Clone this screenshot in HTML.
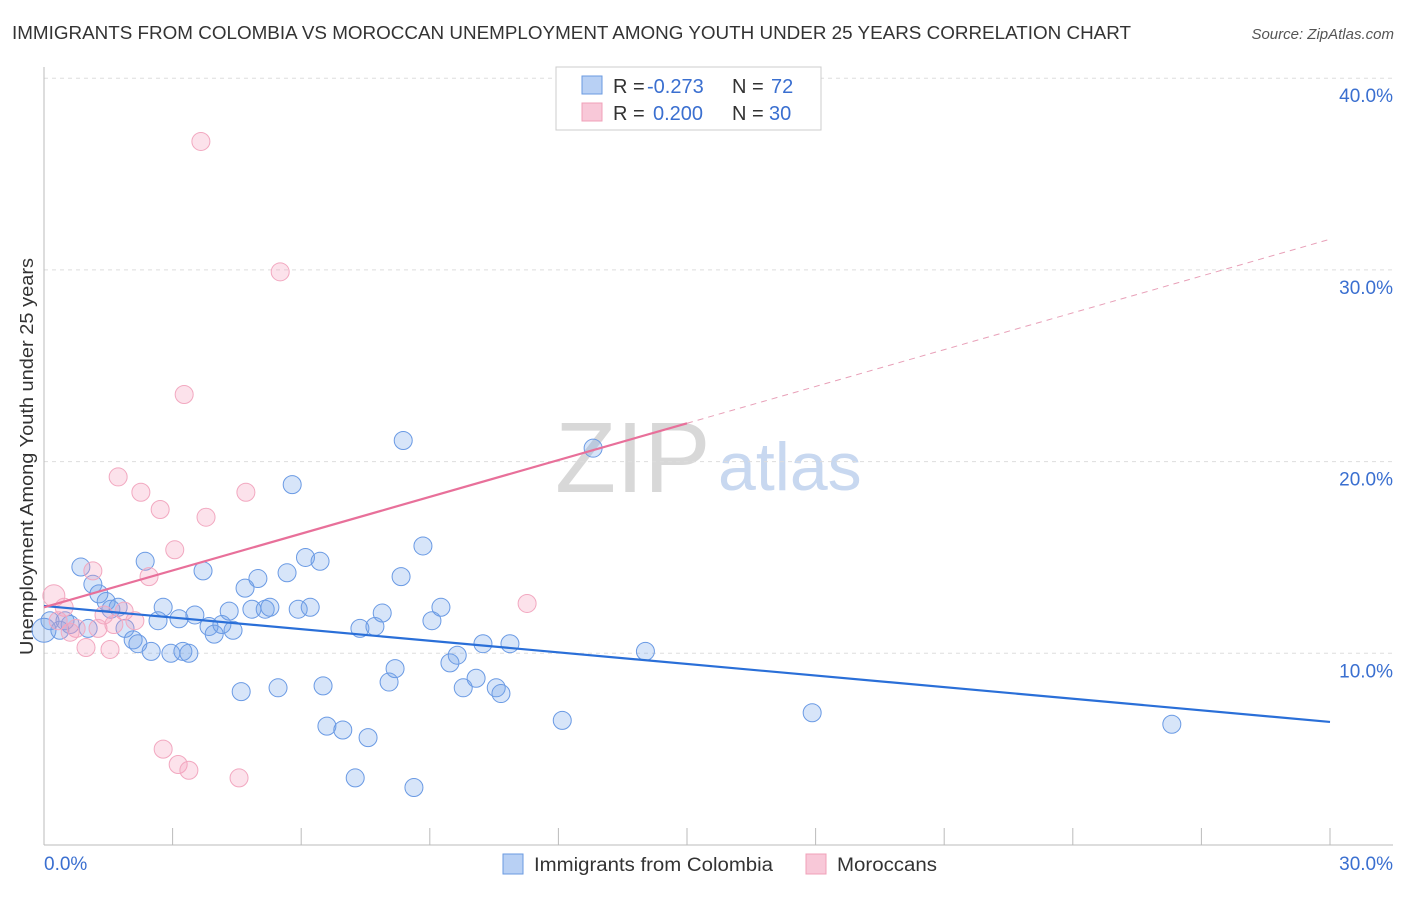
<!DOCTYPE html>
<html><head><meta charset="utf-8"><style>
body{margin:0;background:#fff;font-family:"Liberation Sans",sans-serif;}
svg text{font-family:"Liberation Sans",sans-serif;}
</style></head><body>
<svg width="1406" height="892" id="chart">
<text x="12" y="39" font-size="18" fill="#333" textLength="1119" lengthAdjust="spacingAndGlyphs">IMMIGRANTS FROM COLOMBIA VS MOROCCAN UNEMPLOYMENT AMONG YOUTH UNDER 25 YEARS CORRELATION CHART</text>
<text x="1394" y="39" font-size="15" fill="#555" font-style="italic" text-anchor="end">Source: ZipAtlas.com</text>
<text transform="translate(33,655) rotate(-90)" font-size="18" fill="#333" textLength="397" lengthAdjust="spacingAndGlyphs">Unemployment Among Youth under 25 years</text>
<text x="555" y="492" font-size="100" fill="#d8d8d8" font-family="Liberation Serif">ZIP</text>
<text x="718" y="490" font-size="68" fill="#c8d8f0">atlas</text>
<g id="grid"></g><g id="pts"></g><g id="lines"></g>
<g>
<rect x="556" y="67" width="265" height="63" fill="#fff" stroke="#ccc"/>
<rect x="582" y="76" width="20" height="18" fill="#b8d0f4" stroke="#6a9ae0"/>
<rect x="582" y="103" width="20" height="18" fill="#f8c8d8" stroke="#f0a0b8"/>
<text x="613" y="93" font-size="20" fill="#333">R =</text><text x="647" y="93" font-size="20" fill="#3a6fd0">-0.273</text>
<text x="732" y="93" font-size="20" fill="#333">N =</text><text x="771" y="93" font-size="20" fill="#3a6fd0">72</text>
<text x="613" y="120" font-size="20" fill="#333">R =</text><text x="653" y="120" font-size="20" fill="#3a6fd0">0.200</text>
<text x="732" y="120" font-size="20" fill="#333">N =</text><text x="769" y="120" font-size="20" fill="#3a6fd0">30</text>
</g>
<g>
<rect x="503" y="854" width="20" height="20" fill="#b8d0f4" stroke="#6a9ae0"/>
<text x="534" y="871" font-size="19" fill="#333" textLength="239" lengthAdjust="spacingAndGlyphs">Immigrants from Colombia</text>
<rect x="806" y="854" width="20" height="20" fill="#f8c8d8" stroke="#f0a0b8"/>
<text x="837" y="871" font-size="19" fill="#333" textLength="100" lengthAdjust="spacingAndGlyphs">Moroccans</text>
</g>
</svg>
<script>
const xTicks=[0,3,6,9,12,15,18,21,24,27,30];
const yTicks=[10,20,30,40];
const blueX=[0.86,2.36,1.14,1.28,1.45,1.56,1.73,1.89,2.08,2.19,2.5,2.66,2.78,2.96,3.15,3.24,3.38,3.52,3.71,3.85,3.97,4.15,4.32,4.41,4.6,4.69,4.85,4.99,5.16,5.27,5.46,5.67,5.79,5.93,6.1,6.21,6.44,6.51,6.6,6.97,7.26,7.37,7.56,7.72,7.89,8.05,8.19,8.33,8.38,8.63,8.84,9.05,9.26,9.47,9.64,9.78,10.08,10.24,10.55,10.66,10.87,12.09,12.81,14.03,17.92,26.31,0.14,0.37,0.61,1.03,0.49,0.0];
const blueY=[14.5,14.8,13.6,13.1,12.7,12.3,12.4,11.3,10.7,10.5,10.1,11.7,12.4,10.0,11.8,10.1,10.0,12.0,14.3,11.4,11.0,11.5,12.2,11.2,8.0,13.4,12.3,13.9,12.3,12.4,8.2,14.2,18.8,12.3,15.0,12.4,14.8,8.3,6.2,6.0,3.5,11.3,5.6,11.4,12.1,8.5,9.2,14.0,21.1,3.0,15.6,11.7,12.4,9.5,9.9,8.2,8.7,10.5,8.2,7.9,10.5,6.5,20.7,10.1,6.9,6.3,11.7,11.2,11.5,11.3,11.7,11.2];
const pinkX=[3.66,5.51,3.27,1.73,2.26,4.71,2.71,3.78,3.05,1.14,2.45,0.23,0.47,1.87,1.4,2.12,1.63,1.26,0.75,0.61,0.98,1.54,11.27,2.78,3.13,3.38,4.55,0.33];
const pinkY=[36.7,29.9,23.5,19.2,18.4,18.4,17.5,17.1,15.4,14.3,14.0,13.0,12.4,12.2,12.0,11.7,11.5,11.3,11.3,11.1,10.3,10.2,12.6,5.0,4.2,3.9,3.5,11.7];
const blueFit=[12.47,6.42];
const pinkFit=[12.4,31.6];
const pinkSolidEnd=15;
const NS="http://www.w3.org/2000/svg";
const X=v=>44+v/30*1286, Y=v=>845-v*19.17;
function mk(t,a,p){const e=document.createElementNS(NS,t);for(const k in a)e.setAttribute(k,a[k]);p.appendChild(e);return e;}
const g=document.getElementById('grid');
for(const t of yTicks){const l=mk('line',{x1:44,x2:1393,y1:Y(t),y2:Y(t),stroke:'#ddd','stroke-dasharray':'4,4'},g);


const tx=mk('text',{x:1393,y:Y(t)+24,'font-size':19,fill:'#3a6fd0','text-anchor':'end'},g);tx.textContent=t.toFixed(1)+'%';

}
mk('line',{x1:44,x2:44,y1:67,y2:845,stroke:'#bbb'},g);
mk('line',{x1:44,x2:1393,y1:845,y2:845,stroke:'#bbb'},g);
for(const t of xTicks){if(t>0){const l=mk('line',{x1:X(t),x2:X(t),y1:828,y2:845,stroke:'#bbb'},g);

}}
const x0=mk('text',{x:44,y:870,'font-size':19,fill:'#3a6fd0'},g);x0.textContent=xTicks[0].toFixed(1)+'%';


const x1=mk('text',{x:1393,y:870,'font-size':19,fill:'#3a6fd0','text-anchor':'end'},g);x1.textContent=xTicks[xTicks.length-1].toFixed(1)+'%';


const p=document.getElementById('pts');
blueX.forEach((v,i)=>{const c=mk('circle',{cx:X(v),cy:Y(blueY[i]),r:(i==blueX.length-1?12:9),fill:'rgba(110,160,235,0.28)',stroke:'#6a9ae4','stroke-width':1},p);

});
pinkX.forEach((v,i)=>{const c=mk('circle',{cx:X(v),cy:Y(pinkY[i]),r:(i==11?11:9),fill:'rgba(245,160,190,0.3)',stroke:'#f2a8c0','stroke-width':1},p);

});
const L=document.getElementById('lines');
const bl=mk('line',{x1:X(0),y1:Y(blueFit[0]),x2:X(30),y2:Y(blueFit[1]),stroke:'#2a6fd8','stroke-width':2.2},L);


const pe=pinkFit[0]+(pinkFit[1]-pinkFit[0])*pinkSolidEnd/30;
const pl=mk('line',{x1:X(0),y1:Y(pinkFit[0]),x2:X(pinkSolidEnd),y2:Y(pe),stroke:'#e8709a','stroke-width':2.2},L);


const pd=mk('line',{x1:X(pinkSolidEnd),y1:Y(pe),x2:X(30),y2:Y(pinkFit[1]),stroke:'#e8a0b8','stroke-width':1,'stroke-dasharray':'6,5'},L);


</script>
</body></html>
